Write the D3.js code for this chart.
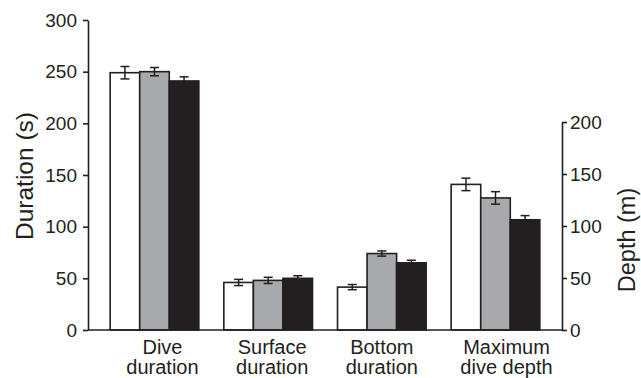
<!DOCTYPE html>
<html>
<head>
<meta charset="utf-8">
<script src="https://cdn.jsdelivr.net/npm/d3@7/dist/d3.min.js"></script>
<style>
  html, body { margin: 0; padding: 0; background: #fff; }
  svg { display: block; font-family: "Liberation Sans", Arial, Helvetica, sans-serif; }
</style>
</head>
<body>
<svg id="chart" width="641" height="378"></svg>
<script>
// Dive metrics for three groups; the last metric is read on the depth axis
const categories = [["Dive", "duration"], ["Surface", "duration"], ["Bottom", "duration"], ["Maximum", "dive depth"]];
const groups = ["A", "B", "C"];
const means = [
  [249, 250, 241],
  [46, 48, 50],
  [41.5, 74, 65],
  [140, 127, 106]
];
const errors = [
  [6, 4, 4],
  [3, 3, 2.5],
  [2.5, 2.5, 2.5],
  [6, 6, 4]
];
const durationTicks = [0, 50, 100, 150, 200, 250, 300];
const depthTicks = [0, 50, 100, 150, 200];

const ink = "#231f20";
const fills = ["#ffffff", "#a7a9ac", "#231f20"];
const labelNudge = [8, 4, 0, 11];

const svg = d3.select("#chart");
const left = 88, right = 562, bottom = 330;

const x0 = d3.scaleBand().domain(d3.range(categories.length)).range([left, right])
  .paddingInner(0.22).paddingOuter(0.195);
const x1 = d3.scaleBand().domain(d3.range(groups.length)).range([0, x0.bandwidth()]).padding(0);
const yDur = d3.scaleLinear().domain([0, 300]).range([bottom, 20]);
const yDep = d3.scaleLinear().domain([0, 200]).range([bottom, 122]);
const yFor = i => (i === categories.length - 1 ? yDep : yDur);

// bars with error bars
const g = svg.append("g");
categories.forEach((c, i) => {
  const y = yFor(i);
  means[i].forEach((v, j) => {
    const bx = x0(i) + x1(j);
    g.append("rect")
      .attr("x", bx).attr("y", y(v))
      .attr("width", x1.bandwidth()).attr("height", y(0) - y(v))
      .attr("fill", fills[j]).attr("stroke", ink).attr("stroke-width", 1.6);
    const cx = bx + x1.bandwidth() / 2;
    const e = errors[i][j];
    const eb = g.append("g").attr("stroke", ink).attr("stroke-width", 1.5);
    eb.append("line").attr("x1", cx).attr("x2", cx).attr("y1", y(v + e)).attr("y2", y(v - e));
    eb.append("line").attr("x1", cx - 4.5).attr("x2", cx + 4.5).attr("y1", y(v + e)).attr("y2", y(v + e));
    eb.append("line").attr("x1", cx - 4.5).attr("x2", cx + 4.5).attr("y1", y(v - e)).attr("y2", y(v - e));
  });
});

// left axis
const axL = svg.append("g").attr("transform", `translate(${left},0)`)
  .call(d3.axisLeft(yDur).tickValues(durationTicks).tickSize(5).tickPadding(6).tickSizeOuter(0));
// right axis
const axR = svg.append("g").attr("transform", `translate(${right},0)`)
  .call(d3.axisRight(yDep).tickValues(depthTicks).tickSize(5).tickPadding(3).tickSizeOuter(0));
[axL, axR].forEach(a => {
  a.selectAll("path, line").attr("stroke", ink).attr("stroke-width", 1.6);
  a.selectAll("text").attr("fill", ink).style("font-size", "19px");
});

// baseline
svg.append("line").attr("x1", left).attr("x2", right).attr("y1", bottom).attr("y2", bottom)
  .attr("stroke", ink).attr("stroke-width", 1.6);

// category labels
categories.forEach((c, i) => {
  const t = svg.append("text").attr("text-anchor", "middle").attr("fill", ink).style("font-size", "20px");
  c.forEach((line, k) => {
    t.append("tspan").attr("x", x0(i) + x0.bandwidth() / 2 + labelNudge[i]).attr("y", 354 + k * 20).text(line);
  });
});

// axis titles
svg.append("text").attr("transform", "translate(33,176) rotate(-90)")
  .attr("text-anchor", "middle").attr("fill", ink).style("font-size", "24.5px").text("Duration (s)");
svg.append("text").attr("transform", "translate(635,240) rotate(-90)")
  .attr("text-anchor", "middle").attr("fill", ink).style("font-size", "23.5px").text("Depth (m)");
</script>
</body>
</html>
